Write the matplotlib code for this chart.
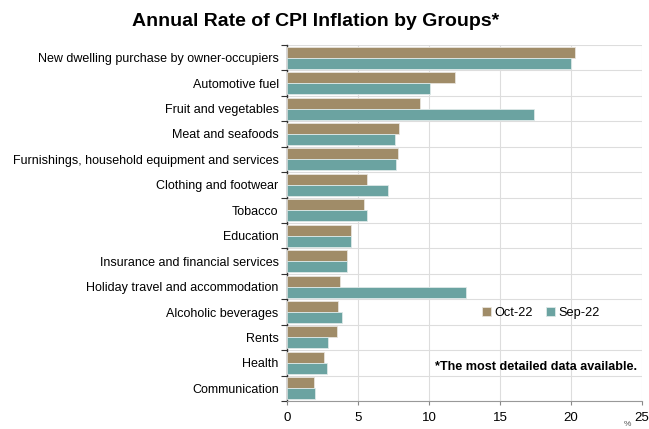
import numpy as np
import matplotlib
matplotlib.use("Agg")
import matplotlib.pyplot as plt
from matplotlib import font_manager

categories = [
    "New dwelling purchase by owner-occupiers",
    "Automotive fuel",
    "Fruit and vegetables",
    "Meat and seafoods",
    "Furnishings, household equipment and services",
    "Clothing and footwear",
    "Tobacco",
    "Education",
    "Insurance and financial services",
    "Holiday travel and accommodation",
    "Alcoholic beverages",
    "Rents",
    "Health",
    "Communication",
]
oct22 = [20.3, 11.8, 9.4, 7.9, 7.8, 5.6, 5.4, 4.5, 4.2, 3.7, 3.6, 3.5, 2.6, 1.9]
sep22 = [20.0, 10.1, 17.4, 7.6, 7.7, 7.1, 5.6, 4.5, 4.2, 12.6, 3.9, 2.9, 2.8, 2.0]
series_names = ["Oct-22", "Sep-22"]
xticks = [0, 5, 10, 15, 20, 25]

names = {f.name for f in font_manager.fontManager.ttflist}
base = "Liberation Sans" if "Liberation Sans" in names else "DejaVu Sans"
plt.rcParams["font.family"] = [base, "DejaVu Sans"]

tan = "#a08c68"
teal = "#6ba3a1"

fig = plt.figure(figsize=(6.49, 4.29), dpi=100)
ax = fig.add_axes([287 / 649, 1 - 401 / 429, 355 / 649, 356 / 429])

y = np.arange(len(categories))
h = 0.43
ax.barh(y - h / 2, oct22, height=h, color=tan, edgecolor="#e8e4dc", linewidth=0.6,
        label=series_names[0], zorder=3)
ax.barh(y + h / 2, sep22, height=h, color=teal, edgecolor="#dde9e8", linewidth=0.6,
        label=series_names[1], zorder=3)

ax.set_xlim(0, 25)
ax.set_ylim(len(categories) - 0.5, -0.5)
ax.set_xticks(xticks)
ax.set_xticklabels([str(t) for t in xticks], fontsize=9.5)
ax.set_yticks(y)
ax.set_yticklabels(categories, fontsize=9)
ax.set_yticks(np.arange(len(categories) + 1) - 0.5, minor=True)
ax.tick_params(axis="y", which="major", length=0, pad=6)
ax.tick_params(axis="y", which="minor", length=4, width=0.8, color="#333333")
ax.tick_params(axis="x", length=3, width=0.8, color="#888888", pad=5)

ax.grid(axis="x", color="#dddddd", linewidth=0.8, zorder=0)
ax.grid(axis="y", which="minor", color="#dddddd", linewidth=0.8, zorder=0)
for s in ["top", "right"]:
    ax.spines[s].set_visible(False)
ax.spines["bottom"].set_color("#999999")
ax.spines["bottom"].set_linewidth(0.8)
ax.spines["left"].set_color("#333333")
ax.spines["left"].set_linewidth(1.0)

ax.legend(loc="center left", bbox_to_anchor=(0.536, 0.247), ncol=2, frameon=False,
          fontsize=9.2, handlelength=0.7, handleheight=0.7, handletextpad=0.25,
          columnspacing=1.0, borderaxespad=0)

ax.text(0.985, 0.095, "*The most detailed data available.", transform=ax.transAxes,
        ha="right", va="center", fontsize=9.1, fontweight="bold")

fig.text(316 / 649, 1 - 22 / 429, "Annual Rate of CPI Inflation by Groups*",
         ha="center", va="center", fontsize=14, fontweight="bold")
fig.text(627 / 649, 1 / 429, "%", ha="center", va="bottom", fontsize=6,
         color="#555555")

fig.savefig("out.png", dpi=100)
